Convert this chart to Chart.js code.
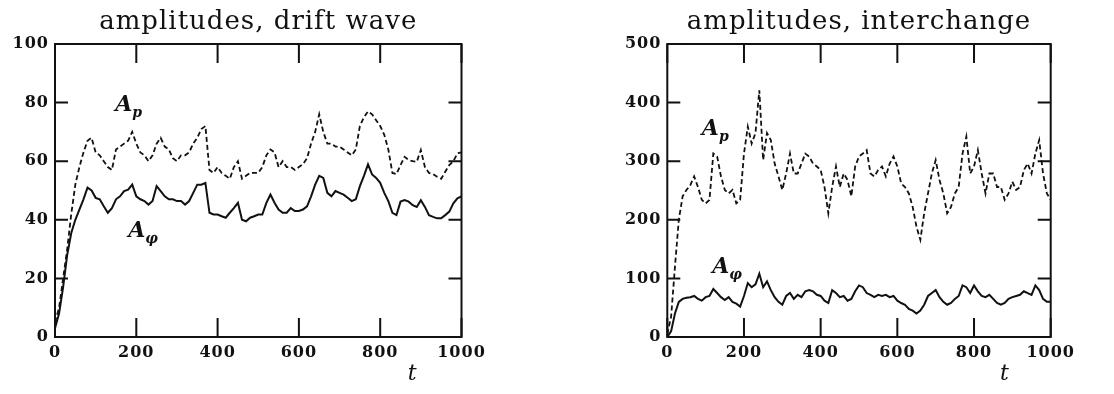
<!DOCTYPE html>
<html>
<head>
<meta charset="utf-8">
<script src="https://cdn.jsdelivr.net/npm/chart.js@4.4.1/dist/chart.umd.min.js"></script>
<style>
  body { margin: 0; background: #fff; width: 1114px; height: 394px; overflow: hidden; position: relative; }
  canvas { position: absolute; top: 0; }
  #left { left: 0; width: 560px; height: 394px; }
  #right { left: 560px; width: 554px; height: 394px; }
</style>
</head>
<body>
<canvas id="left" width="560" height="394"></canvas>
<canvas id="right" width="554" height="394"></canvas>
<script>
// sample times, every 10 units of t
const times = Array.from({ length: 101 }, (_, i) => i * 10);

// drift wave run
const driftAp = [
  5, 10, 20, 30, 42, 52, 58, 63, 67, 68,
  63, 62, 60, 58, 57, 64, 65, 66, 67, 70,
  66, 63, 62, 60, 62, 66, 68, 65, 64, 61,
  60, 62, 62, 63, 66, 68, 71, 72, 57, 56,
  58, 56, 55, 54, 58, 60, 54, 55, 56, 56,
  56, 58, 62, 64, 63, 58, 60, 58, 58, 57,
  58, 59, 61, 66, 70, 76, 70, 66, 66, 65,
  65, 64, 63, 62, 64, 72, 75, 77, 76, 74,
  72, 69, 64, 56, 55.6, 58.7, 61.5, 60.4, 60, 59.8,
  63.8, 58, 56, 55.6, 54.7, 54, 56.4, 58.7, 60, 62.7,
  63
];
const driftAphi = [
  3, 8, 17, 28, 35.5, 40, 43.5, 47, 51, 50,
  47.5, 47, 44.6, 42.4, 44, 47, 48, 49.8, 50.3, 52,
  48, 47, 46.4, 45.2, 46.4, 51.5, 49.8, 48, 47, 47,
  46.4, 46.4, 45.2, 46.4, 49.2, 52, 52, 52.6, 42.4, 41.8,
  41.8, 41.2, 40.7, 42.4, 44, 45.8, 40, 39.5, 40.7, 41.2,
  41.8, 41.8, 45.8, 48.6, 45.8, 43.5, 42.4, 42.4, 44, 43,
  43, 43.5, 44.6, 48, 52, 55, 54.3, 49.2, 48, 49.8,
  49.2, 48.6, 47.5, 46.4, 47, 51.5, 55, 58.9, 55.5, 54.3,
  52.6, 49.2, 46.4, 42.4, 41.6, 46.2, 46.7, 46.2, 45, 44.4,
  46.7, 44.4, 41.6, 41, 40.5, 40.5, 41.6, 42.8, 45.6, 47.3,
  48
];

// interchange run
const interAp = [
  5, 35, 120, 200, 240, 251, 259, 274, 256, 234,
  228, 234, 313, 308, 274, 251, 245, 251, 228, 234,
  313, 359, 330, 348, 421, 302, 348, 336, 296, 274,
  251, 279, 313, 279, 279, 296, 313, 308, 296, 291,
  285, 256, 211, 256, 291, 256, 279, 268, 240, 291,
  308, 313, 319, 279, 274, 285, 291, 274, 296, 308,
  291, 262, 256, 245, 222, 188, 166, 211, 245, 279,
  302, 268, 245, 211, 222, 245, 256, 313, 342, 279,
  291, 319, 279, 245, 279, 279, 256, 256, 234, 245,
  265, 251, 256, 285, 296, 279, 313, 336, 279, 245,
  234
];
const interAphi = [
  0, 10, 40, 60, 65, 67, 68, 70, 65, 62,
  68, 70, 82, 75, 68, 63, 68, 60, 57, 52,
  70, 92, 85, 90, 108, 85, 95, 80, 68, 60,
  55, 70, 75, 65, 72, 68, 78, 80, 78, 72,
  70, 62, 58, 80, 75, 68, 70, 62, 65, 78,
  88, 85, 75, 72, 68, 72, 70, 72, 68, 70,
  62, 58, 55, 48, 45, 40, 45, 55, 70, 75,
  80, 68, 60, 55, 58, 65, 70, 88, 85, 75,
  88, 78, 70, 68, 72, 65, 58, 55, 58, 65,
  68, 70, 72, 78, 75, 72, 88, 80, 65, 60,
  60
];

const xTicks = [0, 200, 400, 600, 800, 1000];
const driftYTicks = [0, 20, 40, 60, 80, 100];
const interYTicks = [0, 100, 200, 300, 400, 500];

const INK = "#111";
const SERIF = "DejaVu Serif";

function pairs(xs, ys) {
  return xs.map((x, i) => ({ x: x, y: ys[i] }));
}

// boxed frame, inward ticks on all four sides, curve labels
const framePlugin = {
  id: "frame",
  beforeDraw(chart) {
    chart.ctx.letterSpacing = "1px";
  },
  afterDatasetsDraw(chart, args, opts) {
    const ctx = chart.ctx;
    const a = chart.chartArea;
    const xs = chart.scales.x;
    const ys = chart.scales.y;
    ctx.save();
    ctx.strokeStyle = INK;
    ctx.lineWidth = 2;
    ctx.strokeRect(a.left, a.top, a.right - a.left, a.bottom - a.top);
    ctx.beginPath();
    xs.ticks.forEach((t) => {
      const px = xs.getPixelForValue(t.value);
      ctx.moveTo(px, a.bottom);
      ctx.lineTo(px, a.bottom - 19);
      ctx.moveTo(px, a.top);
      ctx.lineTo(px, a.top + 19);
    });
    ys.ticks.forEach((t) => {
      const py = ys.getPixelForValue(t.value);
      ctx.moveTo(a.left, py);
      ctx.lineTo(a.left + 13, py);
      ctx.moveTo(a.right, py);
      ctx.lineTo(a.right - 13, py);
    });
    ctx.stroke();

    ctx.letterSpacing = "0px";
    ctx.fillStyle = INK;
    ctx.textBaseline = "alphabetic";
    ctx.textAlign = "left";
    opts.labels.forEach((l) => {
      const px = xs.getPixelForValue(l.t);
      const py = ys.getPixelForValue(l.v);
      ctx.font = "italic bold 22px '" + SERIF + "'";
      ctx.fillText("A", px, py);
      const w = ctx.measureText("A").width;
      ctx.font = "italic bold 14px '" + SERIF + "'";
      ctx.fillText(l.sub, px + w, py + 6);
    });
    ctx.font = "italic 22px '" + SERIF + "'";
    ctx.fillText("t", xs.getPixelForValue(868), a.bottom + 43);
    ctx.restore();
  },
};

function makeChart(id, title, ap, aphi, yTicks, yWidth, padRight, labels) {
  const tickFont = { family: SERIF, size: 16, weight: "bold" };
  const plain = (v) => String(v);
  return new Chart(document.getElementById(id), {
    type: "line",
    data: {
      datasets: [
        {
          label: "A_p",
          data: pairs(times, ap),
          borderColor: INK,
          borderWidth: 1.8,
          borderDash: [5, 3],
          pointRadius: 0,
          tension: 0,
        },
        {
          label: "A_phi",
          data: pairs(times, aphi),
          borderColor: INK,
          borderWidth: 2,
          pointRadius: 0,
          tension: 0,
        },
      ],
    },
    options: {
      responsive: false,
      animation: false,
      layout: { padding: { left: 0, right: padRight, top: 0, bottom: 0 } },
      plugins: {
        legend: { display: false },
        tooltip: { enabled: false },
        title: {
          display: true,
          text: title,
          fullSize: false,
          color: INK,
          font: { family: SERIF, size: 26, weight: "normal" },
          padding: { top: 7, bottom: 5.8 },
        },
        frame: { labels: labels },
      },
      scales: {
        x: {
          type: "linear",
          min: xTicks[0],
          max: xTicks[xTicks.length - 1],
          afterBuildTicks: (s) => { s.ticks = xTicks.map((v) => ({ value: v })); },
          afterFit: (s) => { s.height = 57; },
          grid: { display: false, drawTicks: false },
          border: { display: false },
          ticks: { color: INK, font: tickFont, padding: 6, maxRotation: 0, callback: plain },
        },
        y: {
          min: yTicks[0],
          max: yTicks[yTicks.length - 1],
          afterBuildTicks: (s) => { s.ticks = yTicks.map((v) => ({ value: v })); },
          afterFit: (s) => { s.width = yWidth; },
          grid: { display: false, drawTicks: false },
          border: { display: false },
          ticks: { color: INK, font: tickFont, padding: 6, callback: plain },
        },
      },
    },
    plugins: [framePlugin],
  });
}

makeChart("left", "amplitudes, drift wave", driftAp, driftAphi, driftYTicks, 55, 98.5, [
  { t: 148, v: 77, sub: "p" },
  { t: 180, v: 34, sub: "\u03c6" },
]);
makeChart("right", "amplitudes, interchange", interAp, interAphi, interYTicks, 107.3, 63.3, [
  { t: 90, v: 345, sub: "p" },
  { t: 117, v: 109, sub: "\u03c6" },
]);
</script>
</body>
</html>
